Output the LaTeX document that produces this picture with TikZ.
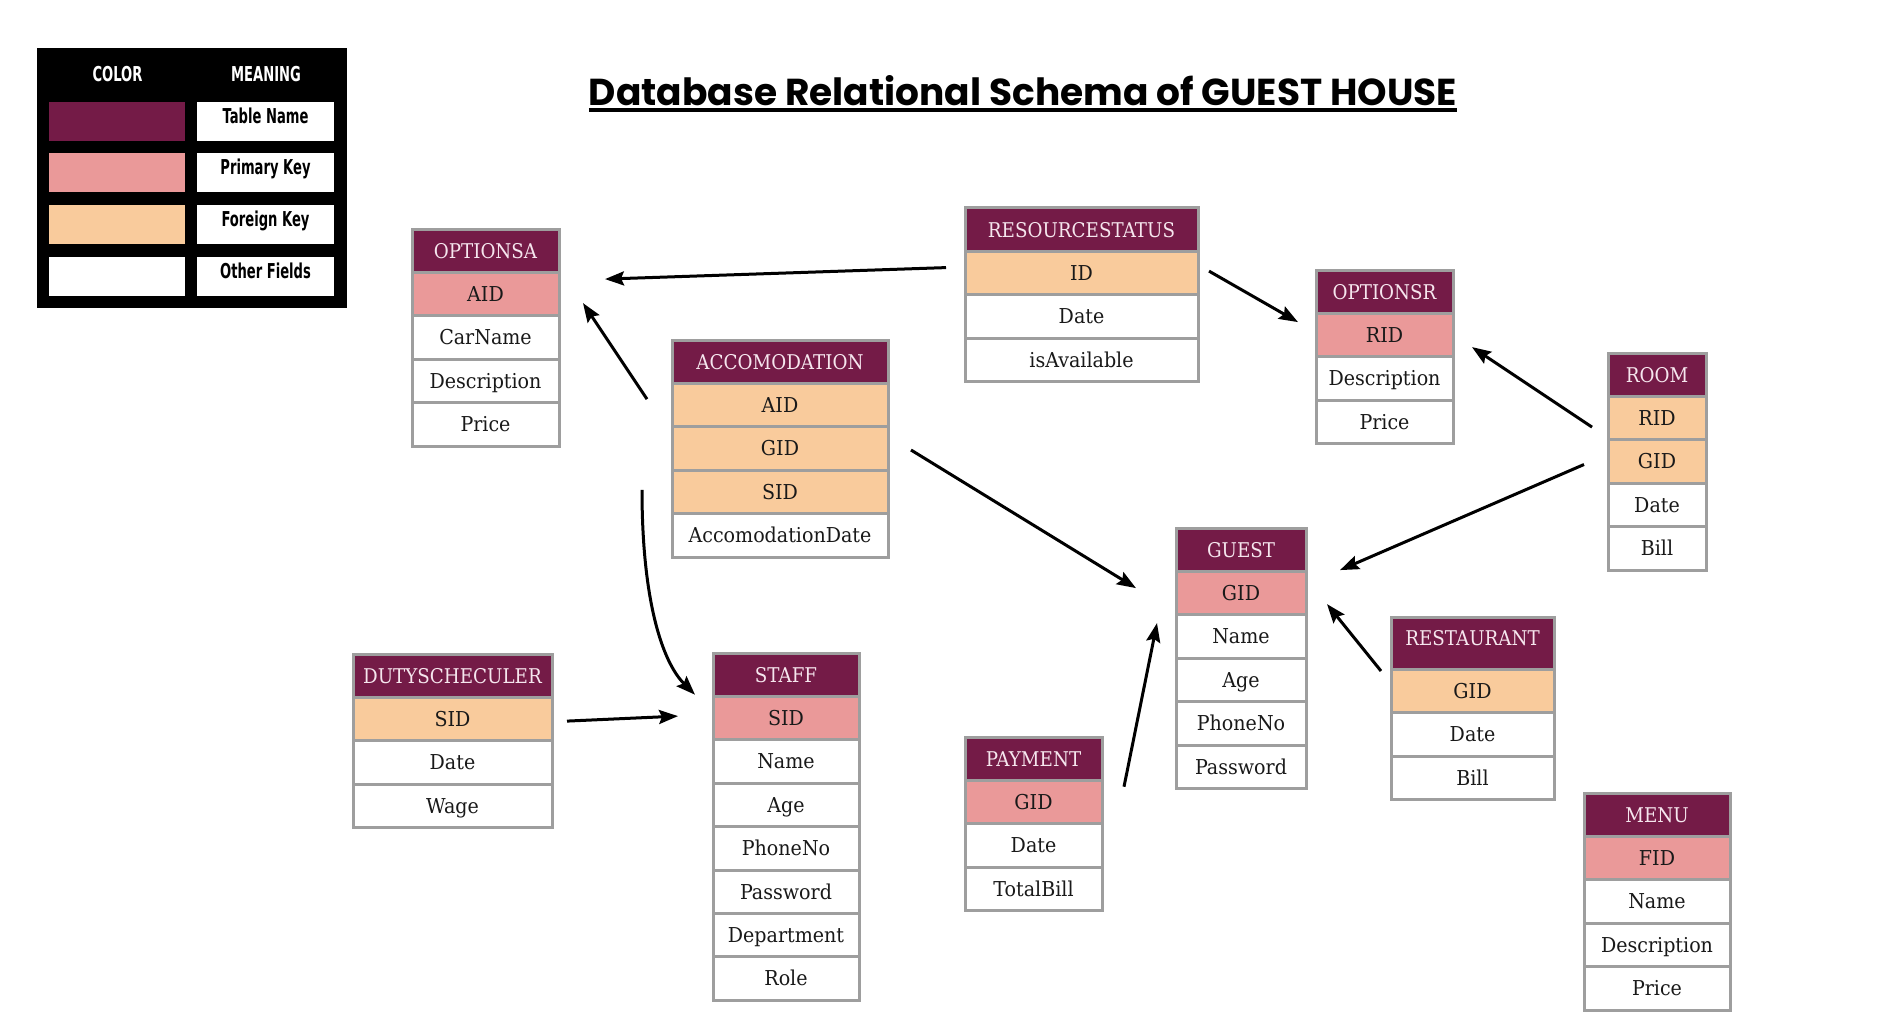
\documentclass[tikz,border=0pt]{standalone}
\usepackage{fontspec}
\usepackage{xcolor}
\usepackage{tikz}
\usetikzlibrary{arrows.meta,positioning,calc}

\newfontfamily\tabfont[FakeStretch=0.93]{DejaVu Serif}
\newfontfamily\tabhfont[FakeStretch=0.9]{DejaVu Serif}
\newfontfamily\titlefont{Poppins}
\newfontfamily\legendfont[FakeStretch=0.64]{DejaVu Sans}

\definecolor{hdrcol}{HTML}{741B47}
\definecolor{pkcol}{HTML}{EA9999}
\definecolor{fkcol}{HTML}{F9CB9C}
\definecolor{gridcol}{HTML}{9E9E9E}
\definecolor{hdrtext}{HTML}{F6E6EE}

\tikzset{
  cell/.style={draw=gridcol, line width=3pt, outer sep=0pt, inner sep=0pt,
    minimum height=43.4pt, text height=14.9pt, text depth=0pt,
    font=\tabfont\fontsize{20.5}{24}\selectfont, text=black!90},
  hdr/.style={cell, fill=hdrcol, text=hdrtext, font=\tabhfont\fontsize{20.3}{24}\selectfont},
  pkey/.style={cell, fill=pkcol},
  fkey/.style={cell, fill=fkcol},
  fld/.style={cell, fill=white},
  rel/.style={line width=3pt, -{Stealth[length=19pt,width=14pt,inset=3pt]}},
  lgtxt/.style={font=\legendfont\bfseries\fontsize{20.5}{24}\selectfont,
    inner sep=0pt, text height=15pt, text depth=0pt},
  swatch/.style={minimum width=136pt, minimum height=39pt, inner sep=0pt},
  mbox/.style={lgtxt, fill=white, minimum width=137pt, minimum height=39pt, text depth=11pt}
}

\begin{document}
\begin{tikzpicture}[x=1pt,y=-1pt]
    \fill[white] (0,0) rectangle (1884,1027);
    \useasboundingbox (0,0) rectangle (1884,1027);

    % Legend
    \fill[black] (37,48) rectangle (347,308);
    \node[lgtxt, text=white] (lg-col) at (117.5,74) {COLOR};
    \node[lgtxt, text=white] (lg-mean) at (266,74) {MEANING};
    \node[swatch, fill=hdrcol] (lg-s1) at (117,121.5) {};
    \node[swatch, fill=pkcol] (lg-s2) at (117,173) {};
    \node[swatch, fill=fkcol] (lg-s3) at (117,224.5) {};
    \node[swatch, fill=white] (lg-s4) at (117,276) {};
    \node[mbox] (lg-m1) at (265.5,121.5) {Table Name};
    \node[mbox] (lg-m2) at (265.5,173) {Primary Key};
    \node[mbox] (lg-m3) at (265.5,224.5) {Foreign Key};
    \node[mbox] (lg-m4) at (265.5,276) {Other Fields};

    % Title
    \node[font=\titlefont\bfseries\fontsize{37.5}{44}\selectfont, anchor=base, inner sep=0pt] (title) at (1023,105.7) {Database Relational Schema of GUEST HOUSE};
    \draw[line width=3.5pt] ($(title.base west)+(0,4.5)$) -- ($(title.base east)+(0,4.5)$);

    % OPTIONSA
    \begin{scope}[every node/.append style={minimum width=147pt}]
    \node[hdr, anchor=north] (oa-h) at (485.5,229) {OPTIONSA};
    \node[pkey, below=0pt of oa-h] (oa-aid) {AID};
    \node[fld, below=0pt of oa-aid] (oa-car) {CarName};
    \node[fld, below=0pt of oa-car] (oa-desc) {Description};
    \node[fld, below=0pt of oa-desc] (oa-price) {Price};
    \end{scope}

    % RESOURCESTATUS
    \begin{scope}[every node/.append style={minimum width=233pt}]
    \node[hdr, anchor=north] (rs-h) at (1081.5,208) {RESOURCESTATUS};
    \node[fkey, below=0pt of rs-h] (rs-id) {ID};
    \node[fld, below=0pt of rs-id] (rs-date) {Date};
    \node[fld, below=0pt of rs-date] (rs-avail) {isAvailable};
    \end{scope}

    % OPTIONSR
    \begin{scope}[every node/.append style={minimum width=137pt}]
    \node[hdr, anchor=north] (or-h) at (1384.5,270) {OPTIONSR};
    \node[pkey, below=0pt of or-h] (or-rid) {RID};
    \node[fld, below=0pt of or-rid] (or-desc) {Description};
    \node[fld, below=0pt of or-desc] (or-price) {Price};
    \end{scope}

    % ROOM
    \begin{scope}[every node/.append style={minimum width=98pt}]
    \node[hdr, anchor=north] (rm-h) at (1657,353) {ROOM};
    \node[fkey, below=0pt of rm-h] (rm-rid) {RID};
    \node[fkey, below=0pt of rm-rid] (rm-gid) {GID};
    \node[fld, below=0pt of rm-gid] (rm-date) {Date};
    \node[fld, below=0pt of rm-date] (rm-bill) {Bill};
    \end{scope}

    % ACCOMODATION
    \begin{scope}[every node/.append style={minimum width=216pt}]
    \node[hdr, anchor=north] (ac-h) at (780,340) {ACCOMODATION};
    \node[fkey, below=0pt of ac-h] (ac-aid) {AID};
    \node[fkey, below=0pt of ac-aid] (ac-gid) {GID};
    \node[fkey, below=0pt of ac-gid] (ac-sid) {SID};
    \node[fld, below=0pt of ac-sid] (ac-date) {AccomodationDate};
    \end{scope}

    % GUEST
    \begin{scope}[every node/.append style={minimum width=130pt}]
    \node[hdr, anchor=north] (gu-h) at (1241,528) {GUEST};
    \node[pkey, below=0pt of gu-h] (gu-gid) {GID};
    \node[fld, below=0pt of gu-gid] (gu-name) {Name};
    \node[fld, below=0pt of gu-name] (gu-age) {Age};
    \node[fld, below=0pt of gu-age] (gu-phone) {PhoneNo};
    \node[fld, below=0pt of gu-phone] (gu-pass) {Password};
    \end{scope}

    % RESTAURANT (taller header)
    \begin{scope}[every node/.append style={minimum width=163pt}]
    \node[hdr, anchor=north, minimum height=52.3pt, text depth=11pt] (re-h) at (1472.5,617) {RESTAURANT};
    \node[fkey, below=0pt of re-h] (re-gid) {GID};
    \node[fld, below=0pt of re-gid] (re-date) {Date};
    \node[fld, below=0pt of re-date] (re-bill) {Bill};
    \end{scope}

    % MENU
    \begin{scope}[every node/.append style={minimum width=146pt}]
    \node[hdr, anchor=north] (mn-h) at (1657,793) {MENU};
    \node[pkey, below=0pt of mn-h] (mn-fid) {FID};
    \node[fld, below=0pt of mn-fid] (mn-name) {Name};
    \node[fld, below=0pt of mn-name] (mn-desc) {Description};
    \node[fld, below=0pt of mn-desc] (mn-price) {Price};
    \end{scope}

    % DUTYSCHECULER
    \begin{scope}[every node/.append style={minimum width=199pt}]
    \node[hdr, anchor=north] (du-h) at (452.5,654) {DUTYSCHECULER};
    \node[fkey, below=0pt of du-h] (du-sid) {SID};
    \node[fld, below=0pt of du-sid] (du-date) {Date};
    \node[fld, below=0pt of du-date] (du-wage) {Wage};
    \end{scope}

    % STAFF
    \begin{scope}[every node/.append style={minimum width=146pt}]
    \node[hdr, anchor=north] (st-h) at (786,653) {STAFF};
    \node[pkey, below=0pt of st-h] (st-sid) {SID};
    \node[fld, below=0pt of st-sid] (st-name) {Name};
    \node[fld, below=0pt of st-name] (st-age) {Age};
    \node[fld, below=0pt of st-age] (st-phone) {PhoneNo};
    \node[fld, below=0pt of st-phone] (st-pass) {Password};
    \node[fld, below=0pt of st-pass] (st-dept) {Department};
    \node[fld, below=0pt of st-dept] (st-role) {Role};
    \end{scope}

    % PAYMENT
    \begin{scope}[every node/.append style={minimum width=137pt}]
    \node[hdr, anchor=north] (pa-h) at (1033.5,737) {PAYMENT};
    \node[pkey, below=0pt of pa-h] (pa-gid) {GID};
    \node[fld, below=0pt of pa-gid] (pa-date) {Date};
    \node[fld, below=0pt of pa-date] (pa-total) {TotalBill};
    \end{scope}

    % Relations
    \draw[rel] ($(rs-id.west)+(-19,-5.5)$) -- ($(oa-aid.east)+(46,-15)$);
    \draw[rel] ($(ac-aid.west)+(-25,-6)$) -- ($(oa-aid.east)+(24,9)$);
    \draw[rel] ($(rs-id.east)+(11,-2)$) -- ($(or-rid.west)+(-18,-13)$);
    \draw[rel] ($(rm-rid.west)+(-16,9)$) -- ($(or-rid.east)+(19,12)$);
    \draw[rel] ($(rm-gid.west)+(-24,3)$) -- ($(gu-gid.east)+(34,-23)$);
    \draw[rel] ($(ac-gid.east)+(23,1.5)$) -- ($(gu-gid.west)+(-40,-5)$);
    \draw[rel] ($(re-gid.west)+(-10,-20)$) -- ($(gu-gid.east)+(21,11)$);
    \draw[rel] ($(pa-h.east)+(22,28)$) -- ($(gu-gid.west)+(-19,30)$);
    \draw[rel] ($(ac-sid.west)+(-30,-2)$) .. controls +(0,110) and +(-33,-33) .. ($(st-h.west)+(-18,20)$);
    \draw[rel] ($(du-sid.east)+(15,2)$) -- ($(st-sid.west)+(-35,-2)$);
\end{tikzpicture}
\end{document}
